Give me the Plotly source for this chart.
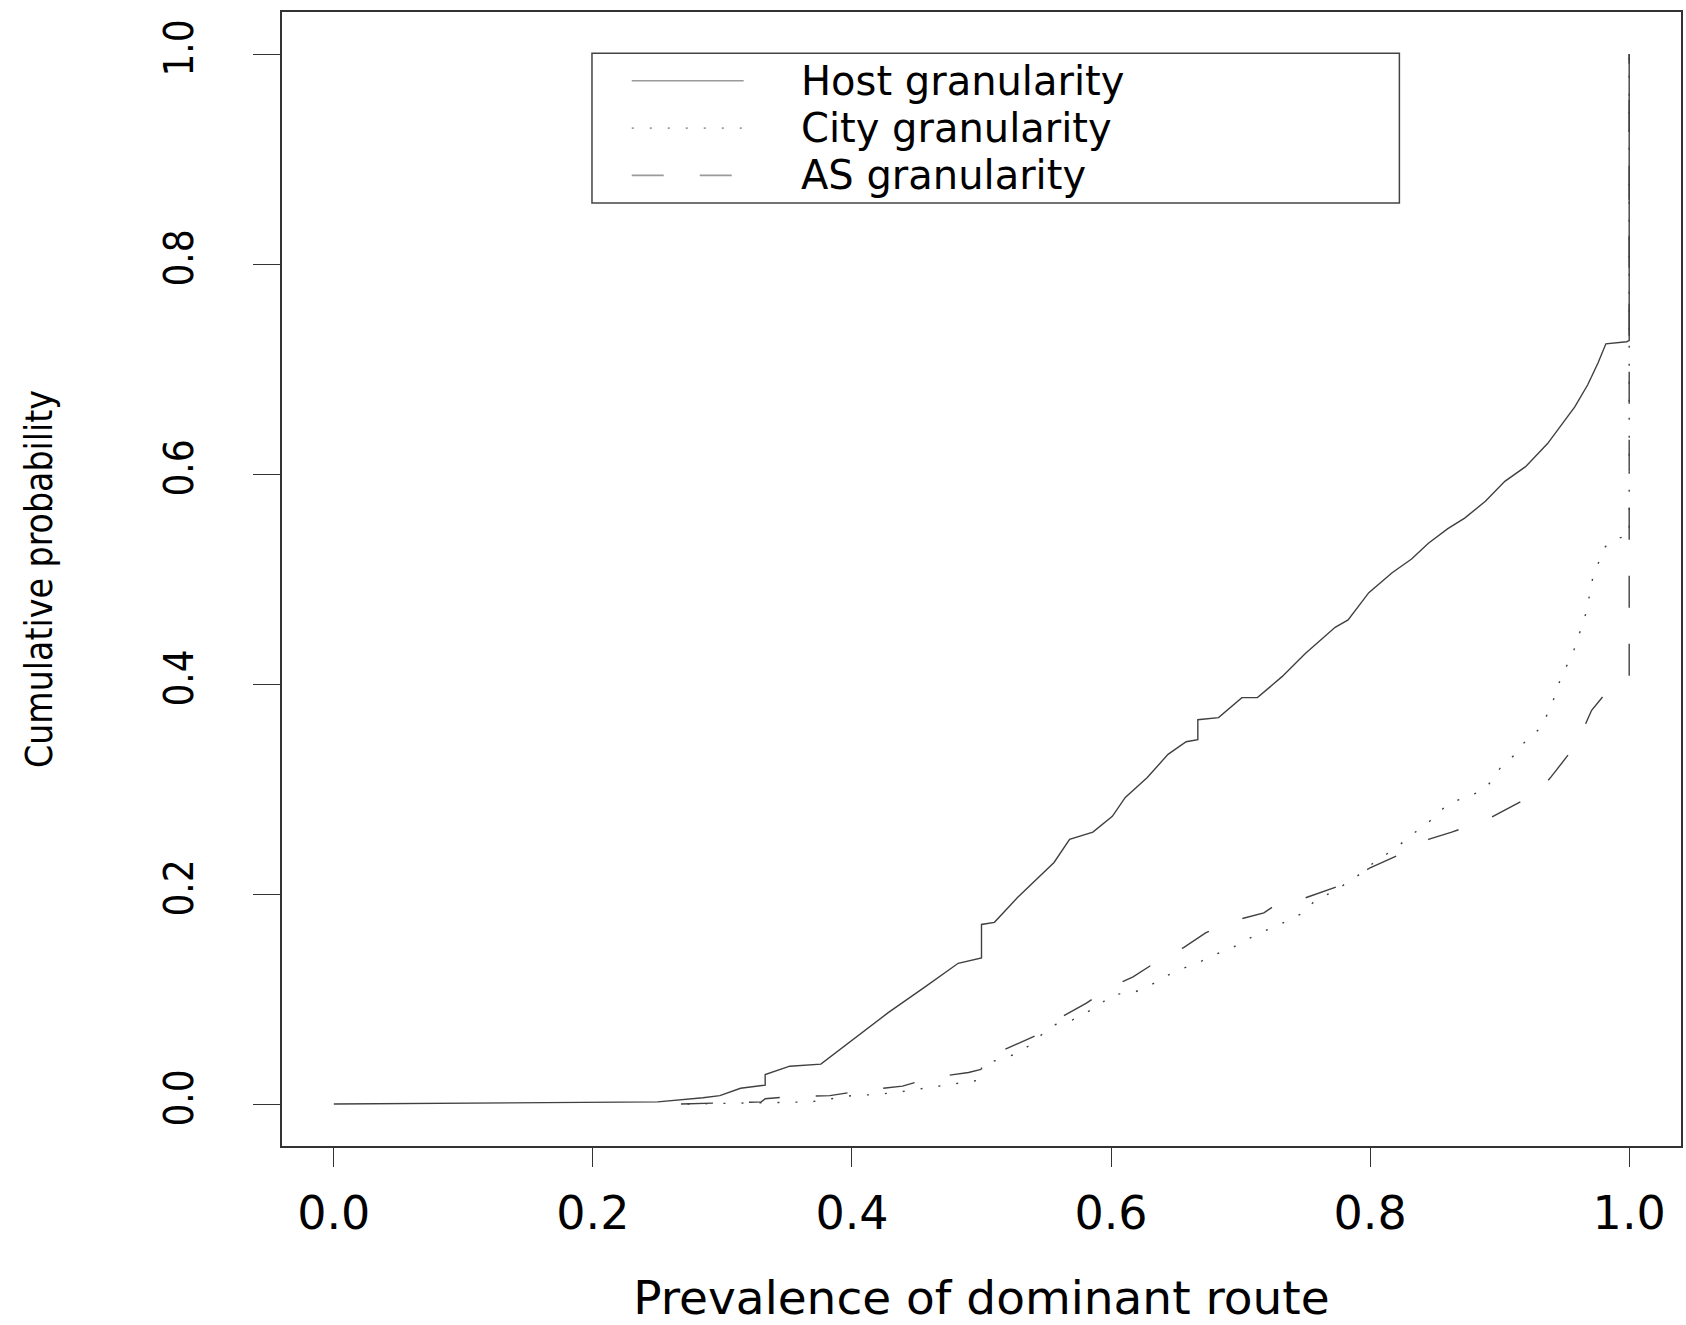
import plotly.graph_objects as go

# ---------------- data ----------------
host_x = [0.0, 0.25, 0.285, 0.298, 0.314, 0.333, 0.333, 0.352, 0.376, 0.400, 0.428, 0.457,
          0.482, 0.500, 0.500, 0.510, 0.528, 0.556, 0.568, 0.586, 0.601, 0.611, 0.628, 0.644,
          0.658, 0.667, 0.667, 0.683, 0.701, 0.713, 0.732, 0.750, 0.773, 0.783, 0.799, 0.817,
          0.832, 0.845, 0.860, 0.873, 0.889, 0.904, 0.920, 0.937, 0.958, 0.968, 0.976, 0.982,
          0.998, 1.0, 1.0]
host_y = [0.0, 0.002, 0.006, 0.008, 0.015, 0.018, 0.028, 0.036, 0.038, 0.061, 0.087, 0.112,
          0.134, 0.139, 0.171, 0.173, 0.197, 0.230, 0.252, 0.259, 0.274, 0.292, 0.311, 0.333,
          0.345, 0.347, 0.366, 0.368, 0.387, 0.387, 0.407, 0.429, 0.454, 0.461, 0.487, 0.506,
          0.519, 0.534, 0.548, 0.558, 0.574, 0.593, 0.607, 0.629, 0.664, 0.685, 0.706, 0.724,
          0.726, 0.727, 1.0]

city_x = [0.273, 0.330, 0.368, 0.400, 0.418, 0.434, 0.451, 0.468, 0.484, 0.500, 0.500, 0.513,
          0.525, 0.536, 0.555, 0.570, 0.581, 0.592, 0.600, 0.617, 0.629, 0.641, 0.655, 0.667,
          0.677, 0.691, 0.701, 0.715, 0.727, 0.740, 0.750, 0.758, 0.770, 0.789, 0.806, 0.818,
          0.828, 0.835, 0.845, 0.853, 0.862, 0.876, 0.889, 0.901, 0.912, 0.922, 0.932, 0.941,
          0.947, 0.957, 0.961, 0.967, 0.972, 0.976, 0.981, 0.987, 0.995, 1.0, 1.0]
city_y = [0.0, 0.001, 0.002, 0.008, 0.009, 0.011, 0.014, 0.017, 0.020, 0.023, 0.038, 0.042,
          0.047, 0.055, 0.075, 0.080, 0.087, 0.095, 0.104, 0.106, 0.112, 0.121, 0.129, 0.134,
          0.141, 0.147, 0.154, 0.163, 0.169, 0.177, 0.183, 0.195, 0.201, 0.216, 0.233, 0.242,
          0.252, 0.259, 0.268, 0.278, 0.287, 0.293, 0.300, 0.321, 0.333, 0.349, 0.358, 0.383,
          0.405, 0.431, 0.446, 0.469, 0.502, 0.514, 0.530, 0.537, 0.540, 0.541, 1.0]

as_x = [0.268, 0.298, 0.330, 0.333, 0.352, 0.383, 0.409, 0.439, 0.461, 0.490, 0.500, 0.500,
        0.524, 0.547, 0.562, 0.581, 0.599, 0.617, 0.637, 0.656, 0.673, 0.693, 0.718, 0.730,
        0.740, 0.762, 0.779, 0.800, 0.822, 0.845, 0.863, 0.889, 0.909, 0.930, 0.940, 0.952,
        0.962, 0.971, 0.981, 0.995, 1.0, 1.0]
as_y = [0.0, 0.001, 0.002, 0.005, 0.007, 0.008, 0.013, 0.017, 0.025, 0.030, 0.033, 0.042,
        0.055, 0.068, 0.083, 0.096, 0.111, 0.121, 0.137, 0.149, 0.163, 0.174, 0.182, 0.192,
        0.192, 0.202, 0.209, 0.225, 0.237, 0.252, 0.259, 0.270, 0.283, 0.297, 0.312, 0.331,
        0.350, 0.375, 0.390, 0.400, 0.404, 1.0]

series_names = ["Host granularity", "City granularity", "AS granularity"]
tick_vals = [0.0, 0.2, 0.4, 0.6, 0.8, 1.0]
x_title = "Prevalence of dominant route"
y_title = "Cumulative probability"

# ---------------- styles ----------------
LINE_COLOR = "#404040"
dashes = ["solid", "2px,16px", "32px,36px"]
wide_font = "DejaVu Sans, Liberation Sans, Arial, sans-serif"
narrow_font = "Liberation Sans Narrow, DejaVu Sans Condensed, Arial Narrow, DejaVu Sans, sans-serif"

fig = go.Figure()
for name, xs, ys, dash in zip(series_names, [host_x, city_x, as_x], [host_y, city_y, as_y], dashes):
    fig.add_trace(go.Scatter(
        x=xs, y=ys, mode="lines", name=name, showlegend=False,
        line=dict(color=LINE_COLOR, width=1.4, dash=dash),
    ))

# ---------------- legend (boxed, R style) ----------------
leg_x0, leg_x1 = 0.1993, 0.8226
leg_y0, leg_y1 = 0.858, 1.0008
sample_x0, sample_x1 = 0.230, 0.3164
text_x = 0.3602
rows_y = [0.9745, 0.9294, 0.8844]

fig.add_shape(type="rect", xref="x", yref="y", x0=leg_x0, x1=leg_x1, y0=leg_y0, y1=leg_y1,
              line=dict(color="#444444", width=1.5), fillcolor="rgba(0,0,0,0)", layer="above")
for name, ry, dash in zip(series_names, rows_y, dashes):
    fig.add_shape(type="line", xref="x", yref="y", x0=sample_x0, x1=sample_x1, y0=ry, y1=ry,
                  line=dict(color="#9a9a9a", width=1.6, dash=dash))
    fig.add_annotation(x=text_x, y=ry, xref="x", yref="y", text=name, showarrow=False,
                       xanchor="left", yanchor="middle", borderpad=0,
                       font=dict(family=wide_font, size=40, color="black"))

fig.update_layout(
    width=1686, height=1325,
    margin=dict(l=282, r=3, t=12, b=179),
    paper_bgcolor="white", plot_bgcolor="white",
    showlegend=False,
)
fig.update_xaxes(
    range=[-0.04, 1.04], tickvals=tick_vals, tickformat=".1f",
    showgrid=False, zeroline=False,
    showline=True, mirror=True, linecolor="#333333", linewidth=1.5,
    ticks="outside", ticklen=19, tickwidth=1.3, tickcolor="#333333",
    tickfont=dict(family=wide_font, size=46, color="black"),
    ticklabelstandoff=7,
    title=dict(text=x_title, font=dict(family=wide_font, size=47, color="black"), standoff=42),
)
fig.update_yaxes(
    range=[-0.04, 1.04], tickvals=tick_vals, tickformat=".1f",
    showgrid=False, zeroline=False,
    showline=True, mirror=True, linecolor="#333333", linewidth=1.5,
    ticks="outside", ticklen=27, tickwidth=1.3, tickcolor="#333333",
    tickangle=-90,
    tickfont=dict(family=narrow_font, size=40, color="black"),
    ticklabelstandoff=44,
    title=dict(text=y_title, font=dict(family=narrow_font, size=37, color="black"), standoff=92),
)

fig.write_html("out.html")
